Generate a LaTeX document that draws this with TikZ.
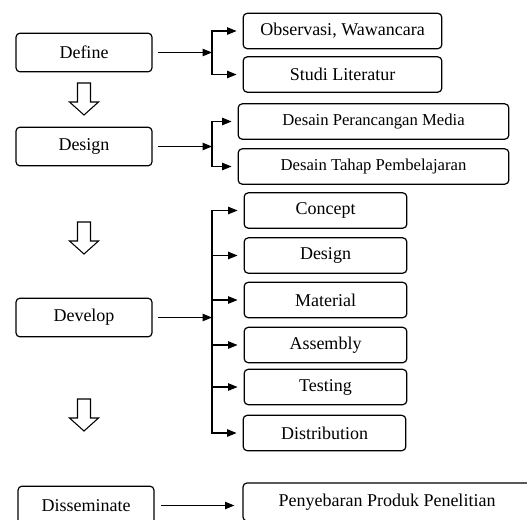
\documentclass[tikz,border=0pt]{standalone}
\usepackage{fontspec}
\setmainfont{Liberation Serif}
\usetikzlibrary{arrows.meta,positioning}

\begin{document}
\begin{tikzpicture}[x=0.75pt,y=-0.75pt,
    stage/.style={draw,rounded corners=3pt,line width=0.9pt,
      minimum width=102pt,minimum height=29pt,
      font=\fontsize{13.5}{16}\selectfont},
    item/.style={draw,rounded corners=3pt,line width=0.9pt,
      minimum height=26.5pt,font=\fontsize{13.5}{16}\selectfont},
    arr/.style={line width=0.8pt,-{Triangle[length=7pt,width=5.5pt]}},
    hollow/.style={line width=0.8pt,line join=miter}]
  \useasboundingbox (0,0) rectangle (527,519);

  % main stages
  \node[stage] (define) at (84,52.5) {Define};
  \node[stage] (design) at (84,146.5) {Design};
  \node[stage] (develop) at (84,317.5) {Develop};
  \node[stage] (dissem) at (86,505.5) {Disseminate};

  % hollow arrows between the stages
  \foreach \y in {83,222,399}
    \draw[hollow] (77.5,\y) -- (90.5,\y) -- (90.5,\y+19) -- (98.5,\y+19)
      -- (84,\y+32) -- (69.5,\y+19) -- (77.5,\y+19) -- cycle;

  % define
  \node[item,minimum width=149pt] (obs) at (342.5,31) {Observasi, Wawancara};
  \node[item,minimum width=149pt] (studi) at (342.5,74.5) {Studi Literatur};
  \coordinate (b1) at (212,52.5);
  \draw[arr,shorten <=3.75pt] (define) -- (b1);
  \foreach \n in {obs,studi}
    \draw[arr,shorten >=4.5pt] (b1) |- (\n);

  % design
  \node[item,minimum width=203pt,font=\fontsize{12.5}{15}\selectfont]
    (media) at (373.5,121.5) {Desain Perancangan Media};
  \node[item,minimum width=203pt,font=\fontsize{12.5}{15}\selectfont]
    (tahap) at (373.5,166.5) {Desain Tahap Pembelajaran};
  \coordinate (b2) at (212,146.5);
  \draw[arr,shorten <=3.75pt] (design) -- (b2);
  \foreach \n in {media,tahap}
    \draw[arr,shorten >=4.5pt] (b2) |- (\n);

  % develop
  \foreach \n/\txt/\x/\y in {
      concept/Concept/325.5/210.5,
      dsgn/Design/325.5/255.5,
      material/Material/325.5/300,
      assembly/Assembly/325.5/345,
      testing/Testing/325.5/387,
      distrib/Distribution/324.5/433}
  {
    \node[item,minimum width=122pt] (\n) at (\x,\y) {\txt};
  }
  \coordinate (b3) at (212,317.5);
  \draw[arr,shorten <=3.75pt] (develop) -- (b3);
  \foreach \n in {concept,dsgn,material,assembly,testing,distrib}
    \draw[arr,shorten >=4.5pt] (b3) |- (\n);

  % disseminate
  \node[item,minimum width=216pt,minimum height=28.5pt]
    (peny) at (387,502) {Penyebaran Produk Penelitian};
  \draw[arr,shorten <=5pt,shorten >=6pt] (dissem.east) -- (dissem.east -| peny.west);
\end{tikzpicture}
\end{document}
